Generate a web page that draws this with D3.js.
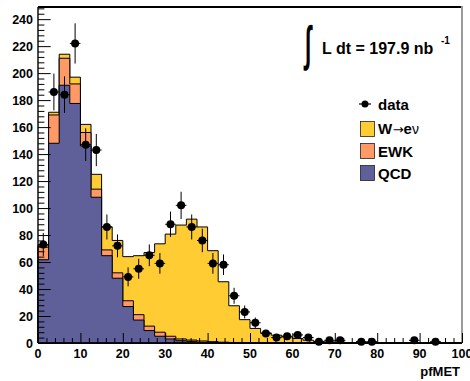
<!DOCTYPE html>
<html>
<head>
<meta charset="utf-8">
<script src="https://cdn.jsdelivr.net/npm/d3@7/dist/d3.min.js"></script>
<style>
  body { margin: 0; background: #fff; }
  svg { display: block; }
  text { font-family: "Liberation Sans", Arial, sans-serif; font-weight: bold; fill: #000; }
</style>
</head>
<body>
<svg id="chart" width="470" height="381"></svg>
<script>
// pfMET histogram: 40 bins of 2.5 GeV from 0 to 100
const binLow = d3.range(0, 100, 2.5);
const binWidth = 2.5;

// Stacked expectations per bin (bottom to top)
const qcd = [61.7, 148, 191, 177.5, 146, 108, 64.7, 48, 27, 17,
             9.2, 5, 3, 1.7, 1.2, 0.5, 0.3, 0.2, 0.1, 0.1,
             0, 0, 0, 0, 0, 0, 0, 0, 0, 0,
             0, 0, 0, 0, 0, 0, 0, 0, 0, 0];
const ewk = [9.3, 21, 20, 14.5, 10, 6, 4.3, 4, 4.3, 4,
             3.3, 3, 2, 1.3, 1, 1, 0.7, 0.4, 0.3, 0.2,
             0.2, 0.1, 0.1, 0.1, 0.05, 0.05, 0, 0, 0, 0,
             0, 0, 0, 0, 0, 0, 0, 0, 0, 0];
const wenu = [1.5, 2, 3, 5, 6, 11, 17, 24, 32.7, 43.7,
              54.5, 65.5, 75.7, 84.4, 89.6, 84.5, 67.4, 44.8, 27.2, 17,
              10.6, 7.4, 5.7, 4.4, 3.3, 2, 1.2, 0.8, 0.5, 0.3,
              0.2, 0.1, 0, 0, 0, 0, 0, 0, 0, 0];

// Observed event counts per bin
const observed = [73, 186, 184, 222, 147, 143, 86, 72, 49, 55,
                  65, 59, 88, 102, 86, 76, 59, 58, 35, 23,
                  15, 7, 4, 5, 6, 4, 1, 2, 2, 0,
                  1, 1, 0, 0, 0, 2, 0, 1, 0, 0];

const xTickValues = [0, 10, 20, 30, 40, 50, 60, 70, 80, 90, 100];
const yTickValues = [0, 20, 40, 60, 80, 100, 120, 140, 160, 180, 200, 220, 240];

const colors = { wenu: "#ffcc33", ewk: "#ff9966", qcd: "#5f5f99" };

const frame = { left: 38, right: 462, top: 7, bottom: 343 };
const svg = d3.select("#chart");

const x = d3.scaleLinear().domain([0, 100]).range([frame.left, frame.right]);
const y = d3.scaleLinear().domain([0, 249]).range([frame.bottom, frame.top]);

// Build stack
const rows = binLow.map((lo, i) => ({ lo, qcd: qcd[i], ewk: ewk[i], wenu: wenu[i] }));
const stack = d3.stack().keys(["qcd", "ewk", "wenu"])(rows);

function stepPath(layer) {
  const p = d3.path();
  p.moveTo(x(0), y(0));
  layer.forEach((d, i) => {
    p.lineTo(x(binLow[i]), y(d[1]));
    p.lineTo(x(binLow[i] + binWidth), y(d[1]));
  });
  p.lineTo(x(100), y(0));
  p.closePath();
  return p.toString();
}

// Draw totals first, so lower components cover them
const gHist = svg.append("g");
[...stack].reverse().forEach(layer => {
  gHist.append("path")
    .attr("d", stepPath(layer))
    .attr("fill", colors[layer.key])
    .attr("stroke", "#000")
    .attr("stroke-width", 1)
    .attr("stroke-linejoin", "miter");
});

// Frame
svg.append("line").attr("x1", frame.left).attr("x2", frame.right)
  .attr("y1", frame.top).attr("y2", frame.top)
  .attr("stroke", "#000").attr("stroke-width", 2);
svg.append("line").attr("x1", frame.right).attr("x2", frame.right)
  .attr("y1", frame.top - 1).attr("y2", frame.bottom)
  .attr("stroke", "#9a9a9a").attr("stroke-width", 2);

// Axes: ticks point into the frame
const xMinor = d3.range(0, 100.001, 2);
const yMinor = d3.range(0, 249, 4);

const xAxis = d3.axisTop(x).tickValues(xMinor).tickSize(5).tickFormat("");
const gx = svg.append("g").attr("transform", `translate(0,${frame.bottom})`).call(xAxis);
gx.selectAll(".tick line").filter(d => d % 10 === 0).attr("y2", -10);
gx.select(".domain").remove();

const yAxis = d3.axisRight(y).tickValues(yMinor).tickSize(6.4).tickFormat("");
const gy = svg.append("g").attr("transform", `translate(${frame.left},0)`).call(yAxis);
gy.selectAll(".tick line").filter(d => d % 20 === 0).attr("x2", 12.7);
gy.select(".domain").remove();
svg.selectAll(".tick line").attr("stroke", "#000").attr("stroke-width", 1);

svg.append("line").attr("x1", frame.left).attr("x2", frame.right)
  .attr("y1", frame.bottom).attr("y2", frame.bottom)
  .attr("stroke", "#000").attr("stroke-width", 1.6);
svg.append("line").attr("x1", frame.left).attr("x2", frame.left)
  .attr("y1", frame.top).attr("y2", frame.bottom)
  .attr("stroke", "#000").attr("stroke-width", 1.4);

// Tick labels
svg.append("g").selectAll("text").data(xTickValues).join("text")
  .attr("x", d => x(d)).attr("y", frame.bottom + 15)
  .attr("text-anchor", "middle").attr("font-size", 12.5)
  .text(d => d);
svg.append("g").selectAll("text").data(yTickValues).join("text")
  .attr("x", frame.left - 5).attr("y", d => y(d) + 4.5)
  .attr("text-anchor", "end").attr("font-size", 12.5)
  .text(d => d);

svg.append("text").attr("x", 460).attr("y", 376)
  .attr("text-anchor", "end").attr("font-size", 13).text("pfMET");

// Data points with Poisson errors
const pts = observed.map((n, i) => ({ n, lo: binLow[i], c: binLow[i] + binWidth / 2 }))
  .filter(d => d.n > 0);
const gData = svg.append("g");
gData.selectAll("line.v").data(pts).join("line").attr("class", "v")
  .attr("x1", d => x(d.c)).attr("x2", d => x(d.c))
  .attr("y1", d => y(d.n - Math.sqrt(d.n))).attr("y2", d => y(d.n + Math.sqrt(d.n)))
  .attr("stroke", "#000").attr("stroke-width", 1);
gData.selectAll("line.h").data(pts).join("line").attr("class", "h")
  .attr("x1", d => x(d.lo)).attr("x2", d => x(d.lo + binWidth))
  .attr("y1", d => y(d.n)).attr("y2", d => y(d.n))
  .attr("stroke", "#000").attr("stroke-width", 1);
gData.selectAll("circle").data(pts).join("circle")
  .attr("cx", d => x(d.c)).attr("cy", d => y(d.n)).attr("r", 4)
  .attr("fill", "#000");

// Luminosity label
const lumi = svg.append("g");
lumi.append("text")
  .attr("transform", "translate(305,60) scale(0.62,1.35)")
  .attr("font-family", "Liberation Serif, DejaVu Serif, serif").attr("font-weight", "normal")
  .attr("font-size", 36).text("∫");
lumi.append("text").attr("x", 322).attr("y", 53.5)
  .attr("font-size", 16).text("L dt = 197.9 nb");
lumi.append("text").attr("x", 441).attr("y", 43.5)
  .attr("font-size", 10).text("-1");

// Legend
const leg = svg.append("g");
leg.append("line").attr("x1", 359).attr("x2", 371).attr("y1", 104).attr("y2", 104)
  .attr("stroke", "#000").attr("stroke-width", 1.2);
leg.append("circle").attr("cx", 365).attr("cy", 104).attr("r", 3.5).attr("fill", "#000");
leg.append("text").attr("x", 378).attr("y", 110).attr("font-size", 15).text("data");

const legItems = [
  { key: "wenu", y: 121.5 },
  { key: "ewk", y: 143.5 },
  { key: "qcd", y: 165.5 }
];
legItems.forEach(it => {
  leg.append("rect").attr("x", 360.5).attr("y", it.y).attr("width", 14).attr("height", 15)
    .attr("fill", colors[it.key]).attr("stroke", "#222").attr("stroke-width", 0.8);
});
const tW = leg.append("text").attr("x", 378).attr("y", 134).attr("font-size", 15);
tW.append("tspan").text("W");
tW.append("tspan").attr("font-family", "DejaVu Sans").attr("font-weight", "normal")
  .attr("font-size", 13).attr("dx", 0.5).text("→");
tW.append("tspan").text("e");
tW.append("tspan").attr("font-weight", "normal").attr("font-size", 14).text("ν");
leg.append("text").attr("x", 378).attr("y", 156.5).attr("font-size", 15).text("EWK");
leg.append("text").attr("x", 378).attr("y", 178.5).attr("font-size", 15).text("QCD");
</script>
</body>
</html>
